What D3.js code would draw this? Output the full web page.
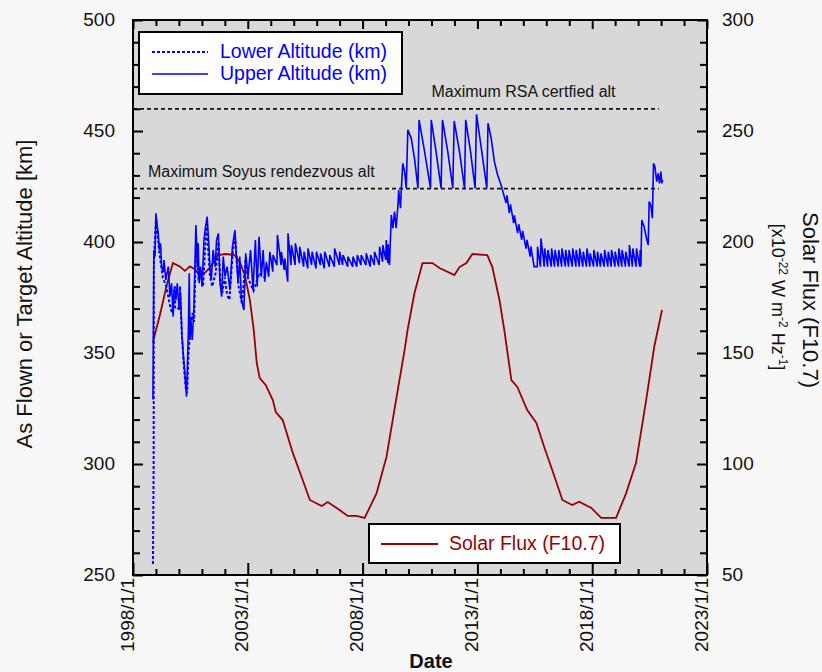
<!DOCTYPE html>
<html lang="en">
<head>
<meta charset="UTF-8">
<title>Altitude and Solar Flux</title>
<style>
  body { margin: 0; background: #f7f7f7; }
  svg { display: block; font-family: "Liberation Sans", Arial, sans-serif; }
</style>
</head>
<body>
<svg id="chart" width="822" height="672"></svg>
<script src="https://d3js.org/d3.v7.min.js"></script>
<script>
// upper altitude (solid), decimal years + km
const upperYears = [
  1998.87, 1998.91, 1998.96, 1999.00, 1999.06, 1999.10, 1999.15, 1999.20, 1999.25, 1999.32,
  1999.35, 1999.43, 1999.54, 1999.61, 1999.68, 1999.75, 1999.80, 1999.87, 1999.93, 2000.01,
  2000.07, 2000.13, 2000.19, 2000.26, 2000.33, 2000.41, 2000.45, 2000.48, 2000.51, 2000.58,
  2000.65, 2000.74, 2000.80, 2000.84, 2000.88, 2000.94, 2001.01, 2001.09, 2001.16, 2001.23,
  2001.29, 2001.35, 2001.41, 2001.49, 2001.58, 2001.64, 2001.72, 2001.78, 2001.86, 2001.93,
  2002.01, 2002.10, 2002.22, 2002.33, 2002.44, 2002.51, 2002.58, 2002.65, 2002.72, 2002.83,
  2002.91, 2003.01, 2003.12, 2003.23, 2003.33, 2003.41, 2003.49, 2003.59, 2003.67, 2003.74,
  2003.81, 2003.91,
  2003.96, 2004.09, 2004.10, 2004.27, 2004.29, 2004.45, 2004.46, 2004.59, 2004.61, 2004.74,
  2004.75, 2004.88, 2004.90, 2005.06, 2005.07, 2005.25, 2005.26, 2005.43, 2005.45, 2005.61,
  2005.62, 2005.78, 2005.80, 2005.97, 2005.99, 2006.16, 2006.17, 2006.33, 2006.35, 2006.55,
  2006.57, 2006.77, 2006.78, 2006.99, 2007.00, 2007.13, 2007.15, 2007.35, 2007.36, 2007.57,
  2007.58, 2007.75, 2007.77, 2007.93, 2007.94, 2008.15, 2008.16, 2008.33, 2008.35, 2008.51,
  2008.52, 2008.72, 2008.74, 2008.87, 2008.88, 2009.01, 2009.03, 2009.10, 2009.11, 2009.17,
  2009.25, 2009.32, 2009.39, 2009.46, 2009.54, 2009.57, 2009.65, 2009.68, 2009.75, 2009.83,
  2009.90, 2009.97, 2010.12, 2010.26, 2010.41, 2010.46, 2010.70, 2010.96, 2010.99, 2011.20,
  2011.42, 2011.48, 2011.71, 2011.93, 2011.99, 2012.22, 2012.44, 2012.49, 2012.70, 2012.90,
  2012.96, 2013.19, 2013.41, 2013.46, 2013.60, 2013.74, 2013.88, 2014.03, 2014.15,
  2014.25, 2014.29, 2014.39, 2014.44, 2014.58, 2014.61, 2014.75, 2014.80, 2014.93, 2014.97,
  2015.12, 2015.16, 2015.30, 2015.33, 2015.47,
  2015.61, 2015.62, 2015.75, 2015.77, 2015.91, 2015.93, 2016.06, 2016.07, 2016.22, 2016.23,
  2016.36, 2016.38, 2016.52, 2016.54, 2016.67, 2016.68, 2016.83, 2016.84, 2016.97, 2016.99,
  2017.13, 2017.15, 2017.29, 2017.30, 2017.44, 2017.45, 2017.59, 2017.61, 2017.75, 2017.77,
  2017.90, 2017.91, 2018.06, 2018.07, 2018.22, 2018.23, 2018.36, 2018.38, 2018.52, 2018.54,
  2018.68, 2018.70, 2018.83, 2018.84, 2018.99, 2019.00, 2019.15, 2019.16, 2019.29, 2019.30,
  2019.45, 2019.46, 2019.61, 2019.62, 2019.75, 2019.77, 2019.91, 2019.93, 2020.07, 2020.09,
  2020.12, 2020.16, 2020.26, 2020.38, 2020.44, 2020.48, 2020.55, 2020.62, 2020.67, 2020.73,
  2020.81, 2020.87, 2020.93, 2020.99, 2021.03, 2021.07
];
const upperAlt = [
  329, 396.4, 393.4, 412.9, 406.9, 403.9, 396.4, 399.4, 388.9, 386.6,
  391.9, 382.9, 388.9, 375.4, 381.4, 366.4, 379.9, 373.9, 381.4, 369.4,
  376.9, 358.9, 349.8, 340.8, 330.3, 358.9, 385.9, 355.9, 366.4, 355.9,
  369.4, 407.7, 388.9, 399.4, 381.4, 388.9, 379.9, 400.9, 406.9, 411.4,
  400.9, 388.9, 382.9, 396.4, 388.9, 400.9, 403.9, 382.9, 375.4, 393.4,
  384.4, 388.9, 378.4, 397.9, 405.4, 391.9, 381.4, 393.4, 373.9, 369.4,
  394.9, 384.4, 396.4, 378.4, 400.9, 379.9, 402.4, 384.4, 396.4, 382.1,
  391.1, 384.4,
  395.6, 386.6, 394.1, 389.6, 403.2, 389.6, 395.6, 387.4, 392.6, 382.1,
  403.9, 389.6, 398.6, 389.6, 399.4, 390.4, 397.9, 388.9, 395.6, 388.1,
  397.1, 389.6, 395.6, 388.1, 395.6, 389.6, 394.9, 388.1, 395.6, 388.9,
  394.1, 388.9, 397.1, 389.6, 395.6, 389.6, 394.1, 388.9, 393.4, 388.9,
  393.4, 388.9, 394.1, 389.6, 394.1, 389.6, 394.9, 388.9, 394.1, 389.6,
  395.6, 389.6, 397.9, 391.1, 398.6, 391.9, 400.9, 390.4, 399.0, 389.6,
  412.2, 406.2, 413.7, 406.2, 416.7, 423.4, 415.2, 422.7, 435.4, 431.7,
  424.2, 450.5, 446.7, 437.7, 424.2, 455.0, 440.7, 424.2, 455.0, 440.7,
  424.2, 455.0, 440.7, 424.2, 454.5, 440.7, 424.2, 455.0, 440.7, 424.2,
  457.5, 440.7, 424.2, 453.5, 446.7, 436.2, 430.2, 425.7, 421.2,
  417.6, 421.0, 413.0, 417.0, 408.5, 412.0, 404.0, 408.0, 401.0, 405.0,
  397.0, 401.0, 393.4, 398.0, 388.9,
  388.9, 397.9, 388.9, 401.6, 388.9, 397.1, 388.9, 396.4, 388.9, 397.1,
  388.9, 396.4, 388.9, 396.4, 388.9, 397.1, 388.9, 396.4, 388.9, 396.4,
  388.9, 397.1, 388.9, 396.4, 388.9, 397.1, 388.9, 395.6, 388.9, 397.1,
  388.9, 394.9, 388.9, 396.4, 388.9, 395.6, 388.9, 394.9, 388.9, 396.4,
  388.9, 395.6, 388.9, 396.4, 388.9, 395.6, 388.9, 397.1, 388.9, 396.4,
  388.9, 395.6, 388.9, 398.6, 388.9, 397.1, 388.9, 397.1, 388.9, 396.4,
  388.9, 409.9, 406.9, 400.9, 398.6, 418.2, 416.7, 410.7, 435.4, 433.9,
  427.2, 430.9, 426.4, 431.7, 426.4, 427.9
];

// lower altitude (dotted), only where it leaves the upper line
const lowerYears = [
  1998.87, 1998.90, 1998.91, 1999.00, 1999.15, 1999.30, 1999.45, 1999.60, 1999.70, 1999.83,
  1999.84, 2000.04, 2000.05, 2000.12, 2000.20, 2000.30, 2000.36, 2000.42, 2000.50, 2000.60,
  2000.66, 2000.75, 2000.85, 2000.95, 2001.05, 2001.20, 2001.35, 2001.45, 2001.60, 2001.72,
  2001.82, 2001.90, 2002.00, 2002.10, 2002.20, 2002.35, 2002.45, 2002.60, 2002.75, 2002.90,
  2003.00, 2003.25, 2003.50, 2003.70
];
const lowerAlt = [
  255, 300, 392, 410, 395, 384, 380, 372, 368, 380,
  370, 370, 380, 360, 346, 334, 332, 350, 362, 368,
  364, 402, 384, 386, 380, 408, 385, 380, 386, 400,
  380, 378, 384, 376, 374, 396, 402, 380, 372, 392,
  384, 378, 386, 384
];

// solar flux F10.7
const fluxYears = [
  1998.87, 1999.17, 1999.48, 1999.74, 2000.04, 2000.26, 2000.48, 2000.74, 2000.91, 2001.17,
  2001.43, 2001.70, 2002.04, 2002.43, 2002.65, 2002.87, 2003.09, 2003.26, 2003.39, 2003.52,
  2003.78, 2004.09, 2004.22, 2004.52, 2004.96, 2005.39, 2005.70, 2006.22, 2006.48, 2007.00,
  2007.35, 2007.74, 2008.09, 2008.30, 2008.61, 2009.04, 2009.48, 2009.83, 2009.96, 2010.26,
  2010.61, 2011.04, 2011.35, 2012.00, 2012.22, 2012.52, 2012.78, 2013.43, 2013.65, 2013.96,
  2014.17, 2014.48, 2014.74, 2015.17, 2015.57, 2015.91, 2016.26, 2016.70, 2017.13, 2017.43,
  2017.96, 2018.39, 2019.04, 2019.48, 2019.91, 2020.35, 2020.70, 2021.04
];
const fluxValues = [
  155, 167, 181, 190.5, 189, 187, 189, 187.4, 184.7, 186.5,
  189.6, 194.1, 194.6, 194.1, 191, 185.1, 173.9, 160.4, 145.5, 138.7,
  135.6, 128.8, 123.4, 119.8, 105, 92.8, 83.8, 81.1, 82.9, 79.3,
  76.6, 76.6, 75.7, 80.2, 86.9, 103.2, 130.2, 151.4, 160.4, 177,
  190.5, 190.5, 188.3, 185.1, 188.7, 190.5, 194.6, 194.1, 188.7, 173.9,
  160.4, 137.8, 134.7, 124.3, 118.5, 107.7, 97.3, 83.8, 81.5, 83,
  80.2, 75.7, 75.7, 86.9, 100.5, 128.8, 152.7, 169.4
];

const xTickYears = [1998, 2003, 2008, 2013, 2018, 2023];
const xTickLabels = ["1998/1/1", "2003/1/1", "2008/1/1", "2013/1/1", "2018/1/1", "2023/1/1"];
const altTicks = [250, 300, 350, 400, 450, 500];
const fluxTicks = [50, 100, 150, 200, 250, 300];

const refValues = [460, 424];
const refLabels = ["Maximum RSA certfied alt", "Maximum Soyus rendezvous alt"];
const refLabelYears = [2011.0, 1998.65];
const refEndYear = 2020.9;

const blue = "#0000ff";
const red = "#990000";

const svg = d3.select("#chart");
const plotL = 133, plotR = 707, plotT = 20, plotB = 575;

function yearToDate(y) {
  const yr = Math.floor(y);
  const a = new Date(yr, 0, 1), b = new Date(yr + 1, 0, 1);
  return new Date(a.getTime() + (y - yr) * (b - a));
}

const x = d3.scaleTime()
  .domain([new Date(1998, 0, 1), new Date(2023, 0, 1)])
  .range([plotL, plotR]);
const yAlt = d3.scaleLinear().domain([250, 500]).range([plotB, plotT]);
const yFlux = d3.scaleLinear().domain([50, 300]).range([plotB, plotT]);

svg.append("rect")
  .attr("x", plotL).attr("y", plotT)
  .attr("width", plotR - plotL).attr("height", plotB - plotT)
  .attr("fill", "#d8d8d8");

// reference lines
refValues.forEach((v, i) => {
  svg.append("line")
    .attr("x1", x(yearToDate(1998))).attr("x2", x(yearToDate(refEndYear)))
    .attr("y1", yAlt(v)).attr("y2", yAlt(v))
    .attr("stroke", "#111").attr("stroke-width", 1.8)
    .attr("stroke-dasharray", "4,3");
  svg.append("text")
    .attr("x", x(yearToDate(refLabelYears[i])))
    .attr("y", yAlt(v) - 11.5)
    .style("font-size", "16px")
    .attr("fill", "#111")
    .text(refLabels[i]);
});

// series
const fluxLine = d3.line()
  .x((d, i) => x(yearToDate(fluxYears[i])))
  .y(d => yFlux(d));
svg.append("path")
  .attr("d", fluxLine(fluxValues))
  .attr("fill", "none").attr("stroke", red).attr("stroke-width", 1.8);

const lowerLine = d3.line()
  .x((d, i) => x(yearToDate(lowerYears[i])))
  .y(d => yAlt(d));
svg.append("path")
  .attr("d", lowerLine(lowerAlt))
  .attr("fill", "none").attr("stroke", blue).attr("stroke-width", 2)
  .attr("stroke-dasharray", "3,2");

const upperLine = d3.line()
  .x((d, i) => x(yearToDate(upperYears[i])))
  .y(d => yAlt(d));
svg.append("path")
  .attr("d", upperLine(upperAlt))
  .attr("fill", "none").attr("stroke", blue).attr("stroke-width", 1.6);

// axes, ticks pointing inward
const majorDates = xTickYears.map(y => yearToDate(y));
const minorDates = d3.timeYear.range(new Date(1998, 0, 1), new Date(2023, 0, 2))
  .filter(d => d.getFullYear() % 5 !== 3);
const altMinor = d3.range(250, 501, 10).filter(v => v % 50 !== 0);
const fluxMinor = d3.range(50, 301, 10).filter(v => v % 50 !== 0);

function tidy(g) {
  g.select(".domain").remove();
  g.selectAll("line").attr("stroke", "#000").attr("stroke-width", 2);
  g.selectAll("text").attr("fill", "#111").style("font-size", "19px")
    .style("font-family", "'Liberation Sans', Arial, sans-serif");
}

svg.append("g").attr("transform", `translate(0,${plotB})`)
  .call(d3.axisBottom(x).tickValues(minorDates).tickSize(-6).tickFormat(""))
  .call(tidy);
svg.append("g").attr("transform", `translate(0,${plotB})`)
  .call(d3.axisBottom(x).tickValues(majorDates).tickSize(-12)
    .tickFormat((d, i) => xTickLabels[i]))
  .call(tidy)
  .selectAll("text")
  .attr("transform", "rotate(-90)")
  .attr("text-anchor", "end")
  .attr("x", -3).attr("y", 0).attr("dy", "0");

svg.append("g").attr("transform", `translate(0,${plotT})`)
  .call(d3.axisTop(x).tickValues(minorDates).tickSize(-6).tickFormat(""))
  .call(tidy);
svg.append("g").attr("transform", `translate(0,${plotT})`)
  .call(d3.axisTop(x).tickValues(majorDates).tickSize(-9).tickFormat(""))
  .call(tidy);

svg.append("g").attr("transform", `translate(${plotL},0)`)
  .call(d3.axisLeft(yAlt).tickValues(altMinor).tickSize(-7).tickFormat(""))
  .call(tidy);
svg.append("g").attr("transform", `translate(${plotL},0)`)
  .call(d3.axisLeft(yAlt).tickValues(altTicks).tickSize(-10).tickPadding(18))
  .call(tidy)
  .selectAll("text").attr("dy", "0.28em");

svg.append("g").attr("transform", `translate(${plotR},0)`)
  .call(d3.axisRight(yFlux).tickValues(fluxMinor).tickSize(-7).tickFormat(""))
  .call(tidy);
svg.append("g").attr("transform", `translate(${plotR},0)`)
  .call(d3.axisRight(yFlux).tickValues(fluxTicks).tickSize(-10).tickPadding(15))
  .call(tidy)
  .selectAll("text").attr("dy", "0.28em");

svg.append("rect")
  .attr("x", plotL).attr("y", plotT)
  .attr("width", plotR - plotL).attr("height", plotB - plotT)
  .attr("fill", "none").attr("stroke", "#000").attr("stroke-width", 2);

// legends
const leg1 = svg.append("g");
leg1.append("rect").attr("x", 139).attr("y", 32).attr("width", 263).attr("height", 62)
  .attr("fill", "#fff").attr("stroke", "#000").attr("stroke-width", 2);
leg1.append("line").attr("x1", 152).attr("x2", 208).attr("y1", 52).attr("y2", 52)
  .attr("stroke", blue).attr("stroke-width", 2).attr("stroke-dasharray", "3,2");
leg1.append("line").attr("x1", 152).attr("x2", 208).attr("y1", 74).attr("y2", 74)
  .attr("stroke", blue).attr("stroke-width", 1.6);
leg1.append("text").attr("x", 220).attr("y", 57.5).attr("fill", blue)
  .style("font-size", "19.5px").text("Lower Altitude (km)");
leg1.append("text").attr("x", 220).attr("y", 79.5).attr("fill", blue)
  .style("font-size", "19.5px").text("Upper Altitude (km)");

const leg2 = svg.append("g");
leg2.append("rect").attr("x", 369).attr("y", 524).attr("width", 251).attr("height", 39)
  .attr("fill", "#fff").attr("stroke", "#000").attr("stroke-width", 2);
leg2.append("line").attr("x1", 381).attr("x2", 438).attr("y1", 544).attr("y2", 544)
  .attr("stroke", red).attr("stroke-width", 1.8);
leg2.append("text").attr("x", 449).attr("y", 549.5).attr("fill", red)
  .style("font-size", "19.5px").text("Solar Flux (F10.7)");

// axis titles
svg.append("text")
  .attr("transform", "translate(31.5,294) rotate(-90)")
  .attr("text-anchor", "middle").attr("fill", "#111")
  .style("font-size", "22px")
  .text("As Flown or Target Altitude [km]");

svg.append("text")
  .attr("transform", "translate(803,300) rotate(90)")
  .attr("text-anchor", "middle").attr("fill", "#111")
  .style("font-size", "22px")
  .text("Solar Flux (F10.7)");

const unit = svg.append("text")
  .attr("transform", "translate(772,297) rotate(90)")
  .attr("text-anchor", "middle").attr("fill", "#111")
  .style("font-size", "18px");
unit.append("tspan").text("[x10");
unit.append("tspan").attr("baseline-shift", "super").style("font-size", "12px").text("-22");
unit.append("tspan").text(" W m");
unit.append("tspan").attr("baseline-shift", "super").style("font-size", "12px").text("-2");
unit.append("tspan").text(" Hz");
unit.append("tspan").attr("baseline-shift", "super").style("font-size", "12px").text("-1");
unit.append("tspan").text("]");

svg.append("text")
  .attr("x", 431).attr("y", 668)
  .attr("text-anchor", "middle").attr("fill", "#111")
  .style("font-size", "20px").style("font-weight", "bold")
  .text("Date");
</script>
</body>
</html>
